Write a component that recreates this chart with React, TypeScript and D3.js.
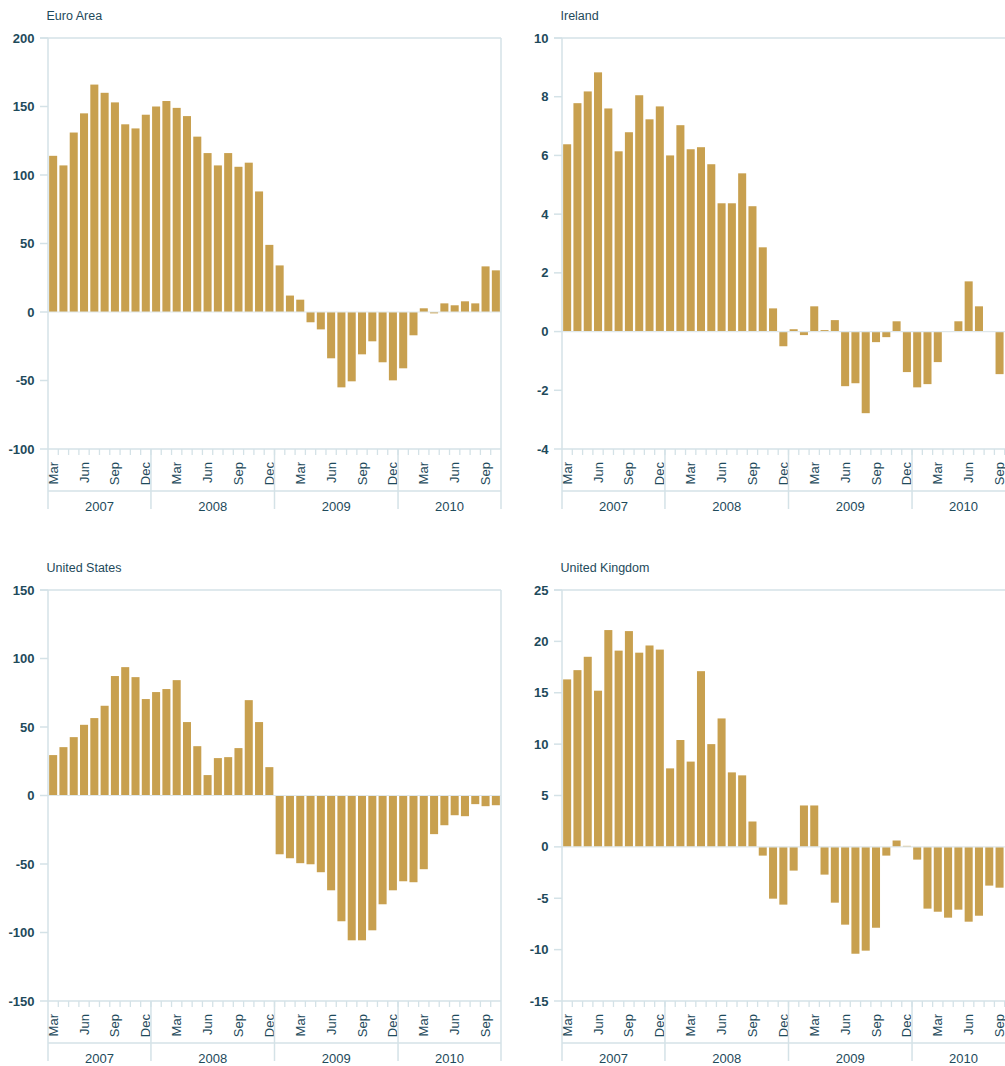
import React from 'react';
import * as d3 from 'd3';

const monthNames = ['Jan', 'Feb', 'Mar', 'Apr', 'May', 'Jun', 'Jul', 'Aug', 'Sep', 'Oct', 'Nov', 'Dec'];
const years = [2007, 2008, 2009, 2010];
const firstMonth = { year: 2007, month: 3 };
const lastMonth = { year: 2010, month: 10 };
const labelledMonths = ['Mar', 'Jun', 'Sep', 'Dec'];

const periods: { key: string; year: number; month: number }[] = [];
years.forEach((y) => {
  for (let m = 1; m <= 12; m++) {
    if (y === firstMonth.year && m < firstMonth.month) continue;
    if (y === lastMonth.year && m > lastMonth.month) continue;
    periods.push({ key: `${y}-${m}`, year: y, month: m });
  }
});

const euroArea = [
  114, 107, 131, 145, 166, 160, 153, 137, 134, 144,
  150, 154, 149, 143, 128, 116, 107, 116, 106, 109, 88, 49,
  34, 12, 9, -7.5, -12.7, -33.8, -55, -50.6, -30.9, -21.4, -36.7, -49.9,
  -41.1, -17, 2.7, -1, 6.3, 4.9, 7.8, 6.3, 33.3, 30.4,
];

const ireland = [
  6.38, 7.78, 8.18, 8.83, 7.6, 6.14, 6.79, 8.05, 7.23, 7.67,
  6.0, 7.03, 6.21, 6.28, 5.7, 4.37, 4.37, 5.39, 4.27, 2.87, 0.79, -0.5,
  0.08, -0.12, 0.86, 0.05, 0.39, -1.86, -1.76, -2.78, -0.36, -0.19, 0.35, -1.38,
  -1.9, -1.79, -1.04, 0.01, 0.35, 1.71, 0.86, 0.02, -1.45, -1.0,
];

const unitedStates = [
  29.5, 35.3, 42.6, 51.6, 56.5, 65.5, 87.2, 93.7, 86.4, 70.4,
  75.5, 77.7, 84.2, 53.6, 36.0, 14.9, 27.3, 28.0, 34.6, 69.6, 53.6, 20.7,
  -42.9, -45.8, -49.4, -50.2, -56.0, -69.2, -91.8, -105.7, -105.7, -98.4, -79.4, -69.2,
  -62.6, -63.3, -53.8, -28.2, -21.7, -14.4, -15.1, -6.3, -7.8, -7.1,
];

const unitedKingdom = [
  16.3, 17.2, 18.5, 15.2, 21.1, 19.1, 21.0, 18.9, 19.6, 19.2,
  7.64, 10.4, 8.3, 17.1, 10.0, 12.5, 7.25, 6.96, 2.47, -0.85, -5.04, -5.62,
  -2.31, 4.03, 4.03, -2.7, -5.43, -7.57, -10.4, -10.1, -7.87, -0.85, 0.62, 0.1,
  -1.24, -6.01, -6.31, -6.89, -6.11, -7.28, -6.7, -3.77, -3.97, -3.0,
];

const euroTicks = [-100, -50, 0, 50, 100, 150, 200];
const irelandTicks = [-4, -2, 0, 2, 4, 6, 8, 10];
const usTicks = [-150, -100, -50, 0, 50, 100, 150];
const ukTicks = [-15, -10, -5, 0, 5, 10, 15, 20, 25];

const panels = [
  { title: 'Euro Area', values: euroArea, ticks: euroTicks, left: 48, top: 38 },
  { title: 'Ireland', values: ireland, ticks: irelandTicks, left: 562, top: 38 },
  { title: 'United States', values: unitedStates, ticks: usTicks, left: 48, top: 590 },
  { title: 'United Kingdom', values: unitedKingdom, ticks: ukTicks, left: 562, top: 590 },
];

const PLOT_W = 453;
const PLOT_H = 411;
const BAR = '#c8a04f';
const AXIS = '#d4e2e7';
const TEXT = '#1e4a5b';
const FONT = "'Liberation Sans Narrow', 'Arial Narrow', 'Liberation Sans', Arial, sans-serif";

function Panel({ title, values, ticks, left, top }: any) {
  const x = d3
    .scaleBand<string>()
    .domain(periods.map((p) => p.key))
    .range([0, PLOT_W])
    .paddingInner(0.22)
    .paddingOuter(0.11);
  const y = d3
    .scaleLinear()
    .domain([ticks[0], ticks[ticks.length - 1]])
    .range([PLOT_H, 0]);
  const step = x.step();
  const edge = (i: number) => i * step;
  const bottom = PLOT_H;
  const sepBottom = bottom + 60;

  const yearSpans = years.map((yr) => {
    const idx = periods.map((p, i) => (p.year === yr ? i : -1)).filter((i) => i >= 0);
    return { year: yr, start: edge(idx[0]), end: edge(idx[idx.length - 1] + 1) };
  });

  return (
    <g transform={`translate(${left},${top})`} fontFamily={FONT}>
      <text x={-1.5} y={-18} fontSize={12.5} fill={TEXT}>
        {title}
      </text>
      {/* bars */}
      {values.map((v: number, i: number) => {
        const p = periods[i];
        const y0 = y(0);
        const yv = y(v);
        return (
          <rect
            key={p.key}
            x={x(p.key)}
            y={Math.min(y0, yv)}
            width={x.bandwidth()}
            height={Math.abs(yv - y0)}
            fill={BAR}
          />
        );
      })}
      {/* zero line */}
      <line x1={0} x2={PLOT_W} y1={y(0)} y2={y(0)} stroke="#dfe7ea" strokeWidth={1.2} />
      {/* top line */}
      <line x1={-8} x2={PLOT_W} y1={0} y2={0} stroke={AXIS} strokeWidth={1.5} />
      {/* y ticks */}
      {ticks.map((t: number) => (
        <g key={t}>
          <line x1={-8} x2={0} y1={y(t)} y2={y(t)} stroke={AXIS} strokeWidth={1.5} />
          <text
            x={-13.5}
            y={y(t)}
            dy="0.35em"
            textAnchor="end"
            fontSize={13}
            fontWeight="bold"
            fill={TEXT}
          >
            {t}
          </text>
        </g>
      ))}
      {/* left axis and right border */}
      <line x1={0} x2={0} y1={0} y2={sepBottom} stroke={AXIS} strokeWidth={1.5} />
      <line x1={PLOT_W} x2={PLOT_W} y1={0} y2={sepBottom} stroke={AXIS} strokeWidth={1.5} />
      {/* x axis */}
      <line x1={0} x2={PLOT_W} y1={bottom} y2={bottom} stroke={AXIS} strokeWidth={1.5} />
      {periods.slice(1).map((p, i) => (
        <line
          key={`t${p.key}`}
          x1={edge(i + 1)}
          x2={edge(i + 1)}
          y1={bottom}
          y2={bottom + 6}
          stroke={AXIS}
          strokeWidth={1.3}
        />
      ))}
      {periods.map((p) => {
        const name = monthNames[p.month - 1];
        if (!labelledMonths.includes(name)) return null;
        const cx = (x(p.key) as number) + x.bandwidth() / 2;
        return (
          <text
            key={`l${p.key}`}
            transform={`translate(${cx},${bottom + 13}) rotate(-90)`}
            dy="0.35em"
            textAnchor="end"
            fontSize={13}
            fill={TEXT}
          >
            {name}
          </text>
        );
      })}
      <line x1={0} x2={PLOT_W} y1={bottom + 42} y2={bottom + 42} stroke={AXIS} strokeWidth={1.5} />
      {yearSpans.slice(1).map((s) => (
        <line
          key={`s${s.year}`}
          x1={s.start}
          x2={s.start}
          y1={bottom}
          y2={sepBottom}
          stroke={AXIS}
          strokeWidth={1.5}
        />
      ))}
      {yearSpans.map((s) => (
        <text
          key={`y${s.year}`}
          x={(s.start + s.end) / 2}
          y={bottom + 62}
          textAnchor="middle"
          fontSize={13}
          fill={TEXT}
        >
          {s.year}
        </text>
      ))}
    </g>
  );
}

export default function App() {
  return (
    <div style={{ position: 'absolute', left: 0, top: 0, width: 1005, height: 1066, overflow: 'hidden', background: '#fff' }}>
      <svg width={1005} height={1066} style={{ display: 'block' }}>
        <rect width={1005} height={1066} fill="#fff" />
        {panels.map((p) => (
          <Panel key={p.title} {...p} />
        ))}
      </svg>
    </div>
  );
}
